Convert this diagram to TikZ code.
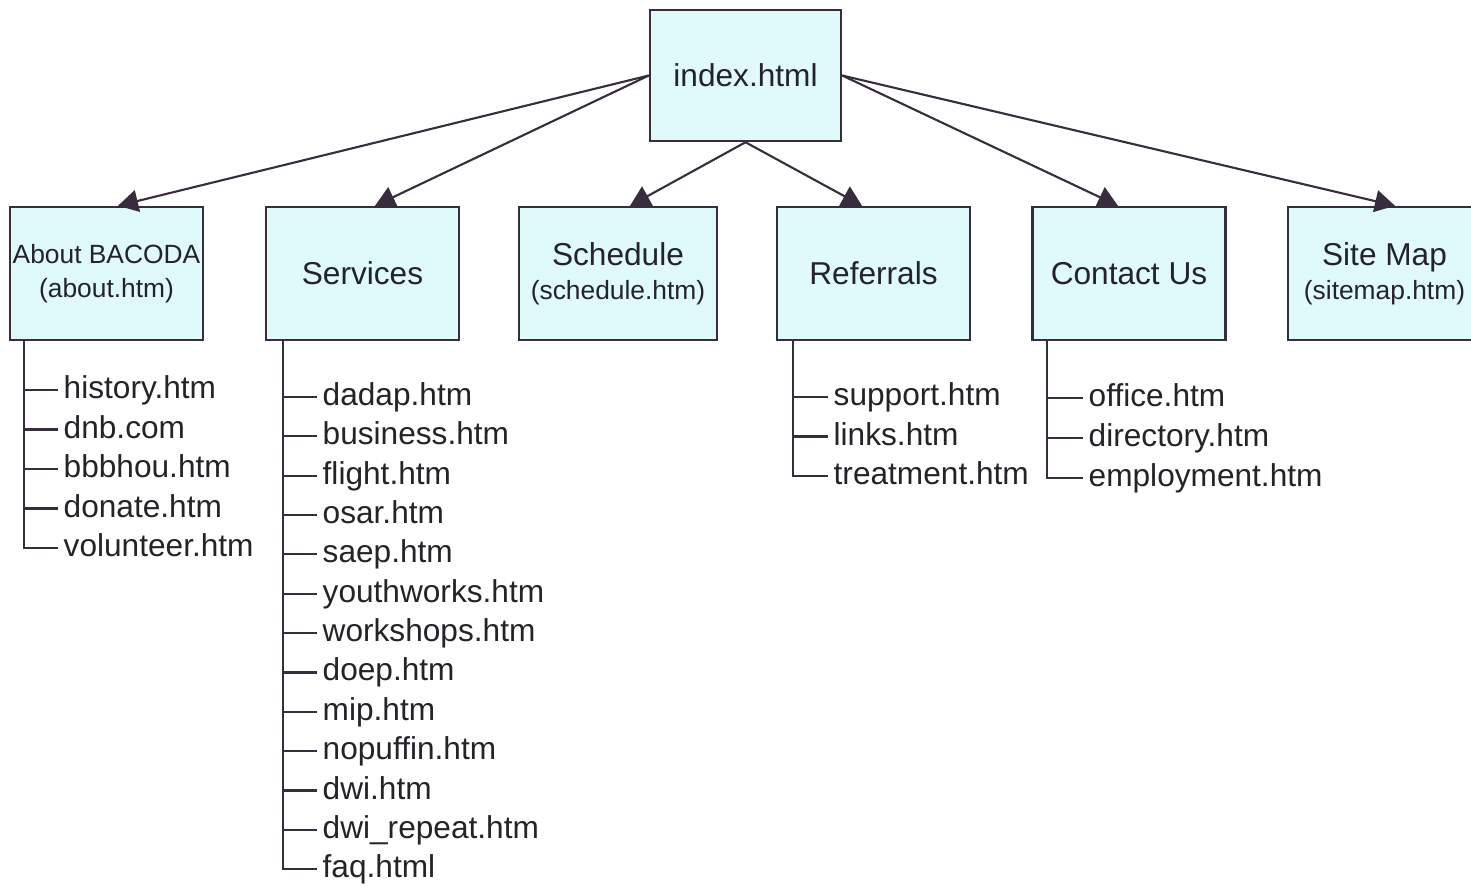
\documentclass[tikz,border=0pt]{standalone}
\usepackage{fontspec}
\setmainfont{Liberation Sans}
\usetikzlibrary{arrows.meta}
\definecolor{boxfill}{RGB}{224,249,250}
\definecolor{linecol}{RGB}{55,45,60}
\definecolor{textcol}{RGB}{35,35,40}
\tikzset{
    page/.style={rectangle,draw=linecol,line width=0.7pt,fill=boxfill,text=textcol,minimum width=1.93cm,minimum height=1.33cm,align=center,font=\fontsize{9}{9.8}\selectfont},
    file/.style={anchor=west,inner sep=0.5mm,text height=2.4mm,text depth=0.7mm,text=textcol,font=\fontsize{9}{11}\selectfont},
    link/.style={draw=linecol,line width=0.6pt,-{Triangle[length=2mm,width=2.2mm]}},
    branch/.style={draw=linecol,line width=0.6pt}
}
\newcommand{\subline}[1]{{\fontsize{7.5}{9}\selectfont #1}}
\begin{document}
\begin{tikzpicture}
    \useasboundingbox (0,0) rectangle (14.71,-8.85);
    \node[page,minimum width=1.91cm,minimum height=1.31cm] (node1) at (7.455,-0.755) {index.html};
    % second level
    \node[page,inner xsep=0pt] (node2) at (1.065,-2.735) {\subline{About BACODA}\\\subline{(about.htm)}};
    \node[page,xshift=2.56cm] (node3) at (node2) {Services};
    \node[page,xshift=2.555cm] (node4) at (node3) {Schedule\\\subline{(schedule.htm)}};
    \node[page,xshift=2.555cm] (node5) at (node4) {Referrals};
    \node[page,xshift=2.555cm] (node6) at (node5) {Contact Us};
    \node[page,xshift=2.555cm] (node7) at (node6) {Site Map\\\subline{(sitemap.htm)}};
    \draw[link] (node1.west) -- ([xshift=1.15mm]node2.north);
    \draw[link] (node1.west) -- ([xshift=1.25mm]node3.north);
    \draw[link] (node1.south) -- ([xshift=1.2mm]node4.north);
    \draw[link] (node1.south) -- ([xshift=-1.15mm]node5.north);
    \draw[link] (node1.east) -- ([xshift=-1.1mm]node6.north);
    \draw[link] (node1.east) -- ([xshift=1.05mm]node7.north);
    % About BACODA
    \node[file] (node8) at (0.58,-3.9) {history.htm};
    \node[file,yshift=-0.395cm] (node9) at (node8.west) {dnb.com};
    \node[file,yshift=-0.395cm] (node10) at (node9.west) {bbbhou.htm};
    \node[file,yshift=-0.395cm] (node11) at (node10.west) {donate.htm};
    \node[file,yshift=-0.395cm] (node12) at (node11.west) {volunteer.htm};
    \draw[branch] ([xshift=1.5mm]node2.south west) |- (node8.west);
    \draw[branch] ([xshift=1.5mm]node2.south west) |- (node9.west);
    \draw[branch] ([xshift=1.5mm]node2.south west) |- (node10.west);
    \draw[branch] ([xshift=1.5mm]node2.south west) |- (node11.west);
    \draw[branch] ([xshift=1.5mm]node2.south west) |- (node12.west);
    % Services
    \node[file] (node13) at (3.17,-3.97) {dadap.htm};
    \node[file,yshift=-0.3935cm] (node14) at (node13.west) {business.htm};
    \node[file,yshift=-0.3935cm] (node15) at (node14.west) {flight.htm};
    \node[file,yshift=-0.3935cm] (node16) at (node15.west) {osar.htm};
    \node[file,yshift=-0.3935cm] (node17) at (node16.west) {saep.htm};
    \node[file,yshift=-0.3935cm] (node18) at (node17.west) {youthworks.htm};
    \node[file,yshift=-0.3935cm] (node19) at (node18.west) {workshops.htm};
    \node[file,yshift=-0.3935cm] (node20) at (node19.west) {doep.htm};
    \node[file,yshift=-0.3935cm] (node21) at (node20.west) {mip.htm};
    \node[file,yshift=-0.3935cm] (node22) at (node21.west) {nopuffin.htm};
    \node[file,yshift=-0.3935cm] (node23) at (node22.west) {dwi.htm};
    \node[file,yshift=-0.3935cm] (node24) at (node23.west) {dwi\_repeat.htm};
    \node[file,yshift=-0.3935cm] (node25) at (node24.west) {faq.html};
    \draw[branch] ([xshift=1.8mm]node3.south west) |- (node13.west);
    \draw[branch] ([xshift=1.8mm]node3.south west) |- (node14.west);
    \draw[branch] ([xshift=1.8mm]node3.south west) |- (node15.west);
    \draw[branch] ([xshift=1.8mm]node3.south west) |- (node16.west);
    \draw[branch] ([xshift=1.8mm]node3.south west) |- (node17.west);
    \draw[branch] ([xshift=1.8mm]node3.south west) |- (node18.west);
    \draw[branch] ([xshift=1.8mm]node3.south west) |- (node19.west);
    \draw[branch] ([xshift=1.8mm]node3.south west) |- (node20.west);
    \draw[branch] ([xshift=1.8mm]node3.south west) |- (node21.west);
    \draw[branch] ([xshift=1.8mm]node3.south west) |- (node22.west);
    \draw[branch] ([xshift=1.8mm]node3.south west) |- (node23.west);
    \draw[branch] ([xshift=1.8mm]node3.south west) |- (node24.west);
    \draw[branch] ([xshift=1.8mm]node3.south west) |- (node25.west);
    % Referrals
    \node[file] (node26) at (8.28,-3.97) {support.htm};
    \node[file,yshift=-0.395cm] (node27) at (node26.west) {links.htm};
    \node[file,yshift=-0.395cm] (node28) at (node27.west) {treatment.htm};
    \draw[branch] ([xshift=1.7mm]node5.south west) |- (node26.west);
    \draw[branch] ([xshift=1.7mm]node5.south west) |- (node27.west);
    \draw[branch] ([xshift=1.7mm]node5.south west) |- (node28.west);
    % Contact Us
    \node[file] (node29) at (10.83,-3.98) {office.htm};
    \node[file,yshift=-0.4cm] (node30) at (node29.west) {directory.htm};
    \node[file,yshift=-0.4cm] (node31) at (node30.west) {employment.htm};
    \draw[branch] ([xshift=1.6mm]node6.south west) |- (node29.west);
    \draw[branch] ([xshift=1.6mm]node6.south west) |- (node30.west);
    \draw[branch] ([xshift=1.6mm]node6.south west) |- (node31.west);
\end{tikzpicture}
\end{document}
